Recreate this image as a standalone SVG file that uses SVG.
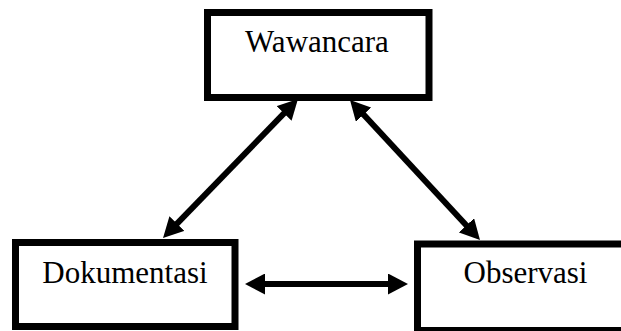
<svg xmlns="http://www.w3.org/2000/svg" width="621" height="331" viewBox="0 0 621 331">
  <style>
    .box { fill: #ffffff; stroke: #000000; stroke-width: 7; }
    .label { font-family: "Liberation Serif", "Times New Roman", serif; font-size: 31px; fill: #000000; text-anchor: middle; }
    .conn { stroke: #000000; stroke-width: 6; fill: none; marker-start: url(#ah); marker-end: url(#ah); }
  </style>
  <defs>
    <marker id="ah" markerUnits="userSpaceOnUse" markerWidth="20" markerHeight="21" refX="10" refY="10.5" orient="auto-start-reverse" viewBox="0 0 20 21">
      <path d="M0,0 L20,10.5 L0,21 z" fill="#000000"/>
    </marker>
  </defs>
  <rect width="621" height="331" fill="#ffffff"/>
  <g id="wawancara">
    <rect class="box" x="207.5" y="12.5" width="221.5" height="85"/>
    <text class="label" x="317" y="52">Wawancara</text>
  </g>
  <g id="dokumentasi">
    <rect class="box" x="15.5" y="242.5" width="219.5" height="84"/>
    <text class="label" x="125" y="283">Dokumentasi</text>
  </g>
  <g id="observasi">
    <rect class="box" x="417.5" y="244" width="215" height="86.5"/>
    <text class="label" x="525.5" y="283">Observasi</text>
  </g>
  <g id="connectors">
    <line class="conn" x1="291" y1="106.2" x2="170" y2="230.8"/>
    <line class="conn" x1="356.8" y1="107.3" x2="473.2" y2="232.7"/>
    <line class="conn" x1="255" y1="284" x2="398" y2="284"/>
  </g>
</svg>
